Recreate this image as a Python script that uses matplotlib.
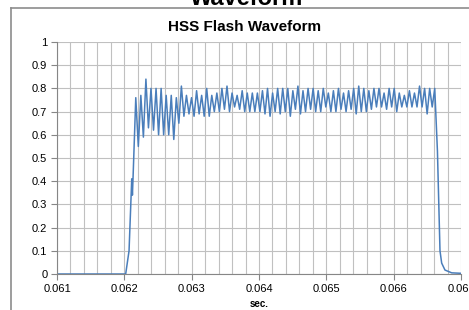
import numpy as np
import matplotlib.pyplot as plt
from matplotlib.lines import Line2D

# leading edge (sec, value)
rise_t = [0.061, 0.06202, 0.06207, 0.06211, 0.06212, 0.06213]
rise_v = [0.0, 0.0, 0.10, 0.41, 0.34, 0.42]

# ringing: peak / trough values
peaks = [0.76, 0.77, 0.84, 0.80, 0.80, 0.80, 0.77, 0.77, 0.76,
         0.81, 0.77, 0.76, 0.79, 0.77, 0.80, 0.77, 0.78, 0.80, 0.81, 0.78, 0.77, 0.79, 0.78,
         0.78, 0.78, 0.79, 0.80, 0.78, 0.80, 0.80, 0.80, 0.79, 0.81, 0.79, 0.80, 0.80, 0.79,
         0.80, 0.78, 0.79, 0.80, 0.78, 0.79, 0.80, 0.81, 0.80, 0.79, 0.80, 0.80, 0.78, 0.80,
         0.80, 0.78, 0.77, 0.79, 0.78, 0.81, 0.80, 0.80, 0.80]
troughs = [0.55, 0.59, 0.63, 0.62, 0.60, 0.60, 0.60, 0.58, 0.65,
           0.68, 0.69, 0.68, 0.69, 0.68, 0.68, 0.70, 0.70, 0.71, 0.70, 0.72, 0.71, 0.70, 0.70,
           0.70, 0.70, 0.69, 0.68, 0.70, 0.69, 0.70, 0.68, 0.71, 0.69, 0.70, 0.71, 0.70, 0.70,
           0.72, 0.70, 0.70, 0.71, 0.70, 0.71, 0.69, 0.70, 0.70, 0.71, 0.72, 0.72, 0.71, 0.72,
           0.70, 0.72, 0.72, 0.72, 0.72, 0.72, 0.69, 0.72]
first_peak = 0.06217
last_peak = 0.06661

# trailing edge
fall_t = [0.06665, 0.066688, 0.066713, 0.066762, 0.066862, 0.066985, 0.067]
fall_v = [0.53, 0.10, 0.047, 0.017, 0.005, 0.003, 0.003]

osc_v = []
for i in range(len(troughs)):
    osc_v += [peaks[i], troughs[i]]
osc_v.append(peaks[-1])
osc_t = np.linspace(first_peak, last_peak, len(osc_v))

t = np.concatenate([rise_t, osc_t, fall_t])
v = np.concatenate([rise_v, osc_v, fall_v])

fig = plt.figure(figsize=(4.69, 3.10), dpi=100)
fig.patch.set_facecolor('white')

# chart frame (cut by the picture edges)
fig.add_artist(Line2D([11/469, 11/469], [0, 1 - 8/310], color='#8c8c8c', lw=1.2))
fig.add_artist(Line2D([11/469, 1], [1 - 8/310, 1 - 8/310], color='#8c8c8c', lw=1.2))

fig.text(247/469, 1 - 5/310, 'Waveform', ha='center', va='baseline',
         fontsize=17, fontweight='bold', family='Liberation Sans')

ax = fig.add_axes([57/469, 1 - 274/310, (461 - 57)/469, (274 - 42)/310])
ax.plot(t, v, color='#4a7ebb', lw=1.1)

ax.set_xlim(0.061, 0.067)
ax.set_ylim(0, 1)
ax.set_xticks([0.061, 0.062, 0.063, 0.064, 0.065, 0.066, 0.067])
ax.set_xticklabels(['0.061', '0.062', '0.063', '0.064', '0.065', '0.066', '0.067'])
ax.set_xticks(np.arange(0.0612, 0.067, 0.0002), minor=True)
ax.set_yticks(np.arange(0, 1.01, 0.1))
ax.set_yticklabels(['0', '0.1', '0.2', '0.3', '0.4', '0.5', '0.6', '0.7', '0.8', '0.9', '1'])

ax.grid(True, which='both', color='#c0c0c0', lw=0.8)
ax.set_axisbelow(True)
for s in ['top', 'right']:
    ax.spines[s].set_visible(False)
for s in ['left', 'bottom']:
    ax.spines[s].set_color('#868686')
ax.tick_params(which='major', length=4, color='#868686', labelsize=8, pad=3)
ax.tick_params(which='minor', length=0)
for lab in ax.get_xticklabels() + ax.get_yticklabels():
    lab.set_family('Liberation Sans')

fig.text(245/469, 1 - 31/310, 'HSS Flash Waveform', ha='center', va='baseline',
         fontsize=11, fontweight='bold', family='Liberation Sans')
ax.set_xlabel('sec.', fontsize=7, fontweight='bold', family='Liberation Sans', labelpad=4)

fig.savefig('out.png', dpi=100)
